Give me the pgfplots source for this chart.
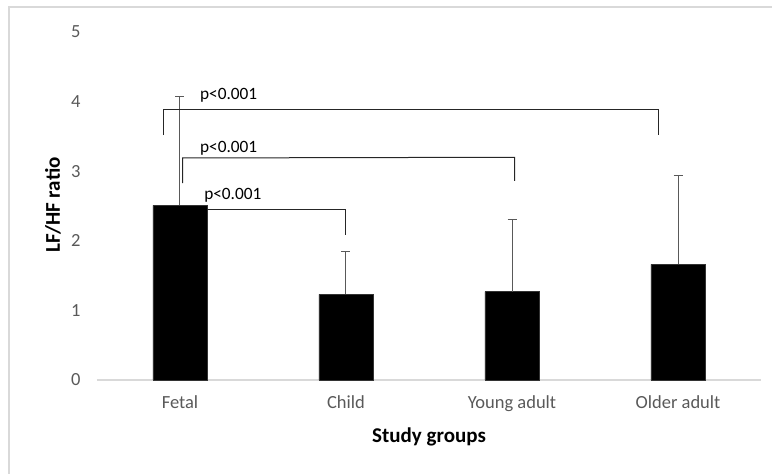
\documentclass[border=0pt]{standalone}
\usepackage{fontspec}
\setmainfont{Carlito}
\usepackage{pgfplots}
\pgfplotsset{compat=1.18}
\definecolor{tickgray}{HTML}{595959}
\definecolor{axgray}{HTML}{D9D9D9}
\begin{document}
\begin{tikzpicture}[x=1pt,y=1pt]
\useasboundingbox (0,0) rectangle (772,474);
\draw[axgray, line width=2pt] (9,0) -- (9,467) -- (772,467);
\begin{axis}[
  at={(97pt,94pt)}, anchor=south west,
  scale only axis, width=664pt, height=348pt,
  xmin=-0.5, xmax=3.5, ymin=0, ymax=5,
  ytick={0,1,2,3,4,5},
  xtick={0,1,2,3},
  xticklabels={Fetal,Child,Young adult,Older adult},
  axis lines*=left,
  x axis line style={axgray, line width=1.5pt},
  y axis line style={draw=none},
  major tick length=0pt,
  /pgf/number format/assume math mode=true,
  tick label style={font=\fontsize{18.5}{20}\selectfont, text=tickgray},
  yticklabel style={xshift=-13pt},
  xticklabel style={yshift=-12pt},
  xlabel={\bfseries Study groups},
  ylabel={\bfseries LF/HF ratio},
  label style={font=\fontsize{21}{24}\selectfont, text=black},
  xlabel style={at={(axis description cs:0.5,0)}, anchor=center, yshift=-57pt},
  ylabel style={at={(axis description cs:-0.0663,0.503)}, anchor=center},
  clip=false,
]
\addplot[ybar, bar width=54pt, fill=black, draw=black!80,
  error bars/.cd, y dir=plus, y explicit,
  error bar style={tickgray, line width=1pt},
  error mark options={rotate=90, mark size=4.5pt, tickgray, line width=1pt}]
  coordinates {
  (0,2.51) +- (0,1.57)
  (1,1.23) +- (0,0.62)
  (2,1.27) +- (0,1.04)
  (3,1.66) +- (0,1.28)
  };
\draw[black!85, line width=1pt] (axis cs:-0.10,3.52) -- (axis cs:-0.10,3.88) -- (axis cs:2.88,3.88) -- (axis cs:2.88,3.52);
\draw[black!85, line width=1pt] (axis cs:0.016,2.83) -- (axis cs:0.016,3.19) -- (axis cs:2.016,3.20) -- (axis cs:2.016,2.86);
\draw[black!85, line width=1pt] (axis cs:0.163,2.45) -- (axis cs:0.998,2.45) -- (axis cs:0.998,2.08);
\node[anchor=west, inner sep=0pt, font=\fontsize{17.3}{19}\selectfont] at (axis cs:0.12,4.09) {p<0.001};
\node[anchor=west, inner sep=0pt, font=\fontsize{17.3}{19}\selectfont] at (axis cs:0.12,3.33) {p<0.001};
\node[anchor=west, inner sep=0pt, font=\fontsize{17.3}{19}\selectfont] at (axis cs:0.145,2.66) {p<0.001};
\end{axis}
\end{tikzpicture}
\end{document}
